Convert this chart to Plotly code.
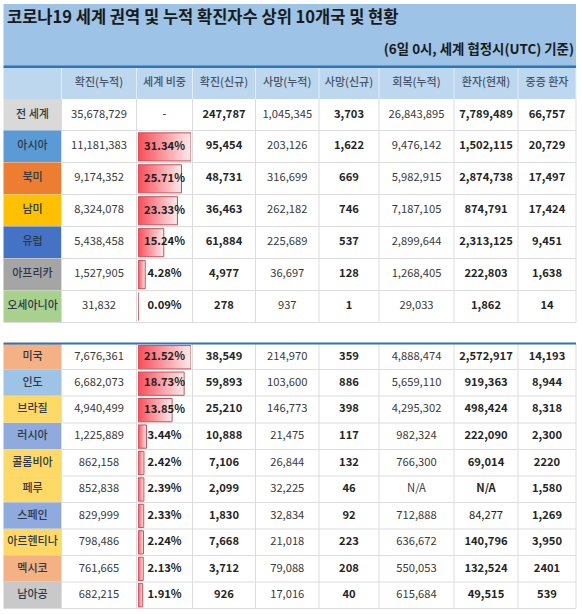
import plotly.graph_objects as go

# ---- data ----
title = "코로나19 세계 권역 및 누적 확진자수 상위 10개국 및 현황"
subtitle = "(6일 0시, 세계 협정시(UTC) 기준)"
headers = ["확진(누적)", "세계 비중", "확진(신규)", "사망(누적)", "사망(신규)", "회복(누적)", "환자(현재)", "중증 환자"]

regions = ["전 세계", "아시아", "북미", "남미", "유럽", "아프리카", "오세아니아"]
countries = ["미국", "인도", "브라질", "러시아", "콜롬비아", "페루", "스페인", "아르헨티나", "멕시코", "남아공"]

region_share = [None, 31.34, 25.71, 23.33, 15.24, 4.28, 0.09]
country_share = [21.52, 18.73, 13.85, 3.44, 2.42, 2.39, 2.33, 2.24, 2.13, 1.91]

confirmed = ["35,678,729", "11,181,383", "9,174,352", "8,324,078", "5,438,458", "1,527,905", "31,832",
             "7,676,361", "6,682,073", "4,940,499", "1,225,889", "862,158", "852,838", "829,999", "798,486", "761,665", "682,215"]
new_confirmed = ["247,787", "95,454", "48,731", "36,463", "61,884", "4,977", "278",
                 "38,549", "59,893", "25,210", "10,888", "7,106", "2,099", "1,830", "7,668", "3,712", "926"]
deaths = ["1,045,345", "203,126", "316,699", "262,182", "225,689", "36,697", "937",
          "214,970", "103,600", "146,773", "21,475", "26,844", "32,225", "32,834", "21,018", "79,088", "17,016"]
new_deaths = ["3,703", "1,622", "669", "746", "537", "128", "1",
              "359", "886", "398", "117", "132", "46", "92", "223", "208", "40"]
recovered = ["26,843,895", "9,476,142", "5,982,915", "7,187,105", "2,899,644", "1,268,405", "29,033",
             "4,888,474", "5,659,110", "4,295,302", "982,324", "766,300", "N/A", "712,888", "636,672", "550,053", "615,684"]
active = ["7,789,489", "1,502,115", "2,874,738", "874,791", "2,313,125", "222,803", "1,862",
          "2,572,917", "919,363", "498,424", "222,090", "69,014", "N/A", "84,277", "140,796", "132,524", "49,515"]
critical = ["66,757", "20,729", "17,497", "17,424", "9,451", "1,638", "14",
            "14,193", "8,944", "8,318", "2,300", "2220", "1,580", "1,269", "3,950", "2401", "539"]

# ---- layout of the sheet, in page pixels ----
W, H = 582, 615
col_edges = [3.5, 61.5, 136.5, 192.5, 255.5, 319, 379, 454, 518, 576]
row_edges = [99, 130.5, 162.5, 194.5, 226.5, 258.5, 290.5, 322.5,
             344, 369.5, 396, 423, 449.5, 476, 502.5, 529, 555.5, 582, 608.5]
BLOCK_BREAK = 7  # row_edges[7] -> row_edges[8] is the blank gap
bar_left, bar_right = 138, 191

region_colors = ["#D9D9D9", "#5B9BD5", "#ED7D31", "#FFC000", "#4472C4", "#A5A5A5", "#A9D18E"]
country_colors = ["#F4B183", "#9DC3E6", "#FFD966", "#8FAADC", "#FFD966", "#FFD966", "#8FAADC", "#FFD966", "#F4B183", "#C9C9C9"]
GRID = "#DDDDDD"
FONT = "Noto Sans CJK KR"
TEXT = "#262626"
LIGHT = "#3A3A3A"


def rect(x0, y0, x1, y1, fill):
    return dict(type="rect", xref="x", yref="y", x0=x0, y0=y0, x1=x1, y1=y1, fillcolor=fill,
                line=dict(color=fill, width=0), layer="below")


# row tops/bottoms, skipping the gap between the two blocks
row_spans = [(row_edges[i], row_edges[i + 1]) for i in range(len(row_edges) - 1) if i != BLOCK_BREAK]
row_centers = [(a + b) / 2 for a, b in row_spans]
col_centers = [(col_edges[i] + col_edges[i + 1]) / 2 for i in range(len(col_edges) - 1)]

shapes = [
    rect(col_edges[0], 4, col_edges[-1], 66, "#9DC3E6"),
    rect(col_edges[0], 68, col_edges[-1], row_edges[0], "#BDD7EE"),
]
for (y0, y1), c in zip(row_spans, region_colors + country_colors):
    shapes.append(rect(col_edges[0], y0, col_edges[1], y1, c))
    shapes.append(dict(type="line", xref="x", yref="y", x0=col_edges[0], x1=col_edges[-1], y0=y1, y1=y1,
                       line=dict(color=GRID, width=1), layer="below"))
for x in col_edges[1:]:
    for y0, y1 in [(row_edges[0], row_edges[7]), (row_edges[8], row_edges[-1])]:
        shapes.append(dict(type="line", xref="x", yref="y", x0=x, x1=x, y0=y0, y1=y1,
                           line=dict(color=GRID, width=1), layer="below"))
    shapes.append(dict(type="line", xref="x", yref="y", x0=x, x1=x, y0=68, y1=row_edges[0],
                       line=dict(color="#E4EEF8", width=1), layer="below"))
shapes.append(rect(col_edges[0], 65.5, col_edges[-1], 68, "#2E75B6"))
shapes.append(rect(col_edges[0], 342.5, col_edges[-1], 344.5, "#2E75B6"))

fig = go.Figure()


def add_text(xs, ys, texts, size, color=TEXT, pos="middle center", axes=("x", "y"), weight="normal"):
    fig.add_trace(go.Scatter(x=xs, y=ys, text=texts, mode="text", textposition=pos, hoverinfo="skip",
                             textfont=dict(family=FONT, size=size, color=color, weight=weight), cliponaxis=False,
                             xaxis=axes[0], yaxis=axes[1], showlegend=False))


# data bars: each block has its own scale, the largest share fills the cell
def add_bars(names, shares, xaxis, yaxis):
    half = 0.44
    top = max(s for s in shares if s is not None)
    for i, share in enumerate(shares):
        if share is None:
            continue
        fig.add_trace(go.Scatter(
            x=[0, share, share, 0, 0], y=[i - half, i - half, i + half, i + half, i - half],
            mode="lines", fill="toself", hoverinfo="skip", showlegend=False, cliponaxis=False,
            line=dict(color="#C8505C", width=1),
            fillgradient=dict(type="horizontal", colorscale=[[0, "#FA4C58"], [1, "#FDEBEB"]]),
            xaxis=xaxis, yaxis=yaxis))
    # the labels sit in the same subplot so they stay on top of the bars
    idx = [i for i, s in enumerate(shares) if s is not None]
    add_text([top / 2] * len(idx), idx, ["%.2f%%" % shares[i] for i in idx], 11.2, "#222222",
             axes=(xaxis, yaxis), weight=600)


add_bars(regions, region_share, "x2", "y2")
add_bars(countries, country_share, "x3", "y3")

# title band and header row
add_text([7], [18.5], ["<b>" + title + "</b>"], 16.5, "#1A1A1A", "middle right")
add_text([574], [51], ["<b>" + subtitle + "</b>"], 13.4, "#1A1A1A", "middle left")
add_text(col_centers[1:], [83] * len(headers), headers, 11, "#44546A", weight=500)

# row labels
names = regions + countries
add_text([col_centers[0]] * len(names), row_centers, names, 11, "#2F3847", weight=500)

plain_columns = {1: confirmed, 4: deaths, 6: recovered}
bold_columns = {3: new_confirmed, 5: new_deaths, 7: active, 8: critical}
for col, values in plain_columns.items():
    add_text([col_centers[col]] * len(values), row_centers, values, 11.2, LIGHT)
for col, values in bold_columns.items():
    # 스페인 환자(현재) is the one value in these columns that is not bold
    texts = [v if (col == 7 and v == "84,277") else "<b>" + v + "</b>" for v in values]
    add_text([col_centers[col]] * len(values), row_centers, texts, 11.2, TEXT)

# 전 세계 has no share, only a dash
add_text([col_centers[2]], [row_centers[0]], ["-"], 11.2, TEXT)

hidden = dict(visible=False, fixedrange=True)
fig.update_layout(
    width=W, height=H, autosize=False, margin=dict(l=0, r=0, t=0, b=0),
    paper_bgcolor="white", plot_bgcolor="rgba(0,0,0,0)", showlegend=False, shapes=shapes,
    xaxis=dict(range=[0, W], domain=[0, 1], **hidden),
    yaxis=dict(range=[H, 0], domain=[0, 1], **hidden),
    xaxis2=dict(range=[0, max(region_share[1:])], domain=[bar_left / W, bar_right / W], anchor="y2", **hidden),
    yaxis2=dict(range=[len(regions) - 0.5, -0.5], domain=[1 - row_edges[7] / H, 1 - row_edges[0] / H], anchor="x2", **hidden),
    xaxis3=dict(range=[0, max(country_share)], domain=[bar_left / W, bar_right / W], anchor="y3", **hidden),
    yaxis3=dict(range=[len(countries) - 0.5, -0.5], domain=[1 - row_edges[-1] / H, 1 - row_edges[8] / H], anchor="x3", **hidden),
)

fig.write_html("out.html", config=dict(displayModeBar=False),
               post_script="document.body.style.margin='0';")
